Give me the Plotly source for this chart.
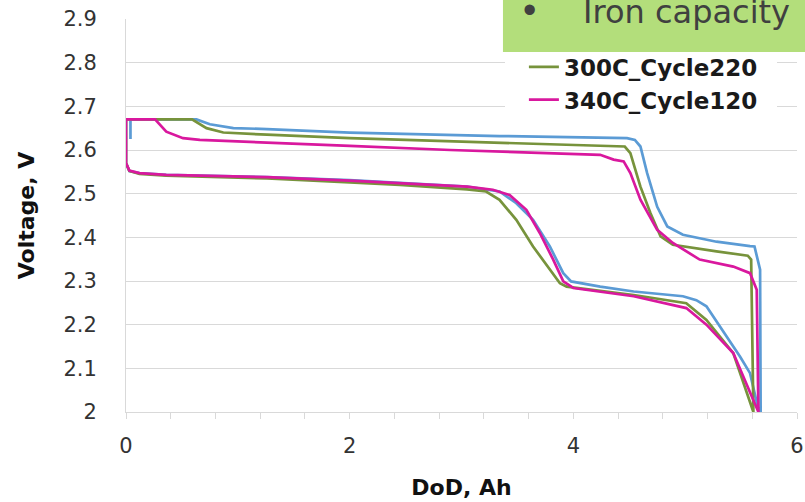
import plotly.graph_objects as go

# Discharge (voltage falling to 2.0 V) followed by recharge back up along the upper branch
blue_dod = [0, 0, 0.03, 0.12, 0.36, 1.26, 2.0, 2.45, 3.05, 3.34, 3.49, 3.64, 3.79, 3.91, 3.98,
            4.24, 4.54, 4.98, 5.10, 5.19, 5.31, 5.49, 5.58, 5.66,
            5.675, 5.67, 5.62, 5.58, 5.28, 4.98, 4.84, 4.75, 4.66, 4.60, 4.55, 4.48, 3.34,
            2.0, 1.26, 0.96, 0.75, 0.63, 0.04, 0.04]
blue_v = [2.67, 2.57, 2.552, 2.547, 2.543, 2.538, 2.531, 2.524, 2.516, 2.505, 2.478, 2.440, 2.379, 2.318, 2.299,
          2.287, 2.276, 2.265, 2.256, 2.242, 2.196, 2.127, 2.089, 2.0,
          2.0, 2.326, 2.379, 2.380, 2.390, 2.406, 2.425, 2.470, 2.547, 2.608, 2.623, 2.627, 2.632,
          2.640, 2.648, 2.650, 2.659, 2.67, 2.67, 2.625]

green_dod = [0, 0, 0.03, 0.12, 0.36, 1.26, 2.0, 2.45, 3.05, 3.22, 3.34, 3.49, 3.64, 3.79, 3.88, 3.94,
             4.54, 5.01, 5.19, 5.43, 5.61,
             5.61, 5.59, 5.56, 5.28, 4.89, 4.78, 4.69, 4.60, 4.51, 4.46, 3.34,
             2.0, 1.26, 0.87, 0.72, 0.59, 0]
green_v = [2.67, 2.57, 2.552, 2.545, 2.541, 2.535, 2.526, 2.520, 2.510, 2.505, 2.486, 2.440, 2.379, 2.326, 2.295, 2.287,
           2.268, 2.249, 2.211, 2.135, 2.0,
           2.0, 2.349, 2.358, 2.368, 2.383, 2.402, 2.455, 2.516, 2.593, 2.608, 2.617,
           2.627, 2.635, 2.640, 2.650, 2.67, 2.67]

magenta_dod = [0, 0, 0.03, 0.12, 0.36, 1.26, 2.0, 2.45, 3.05, 3.28, 3.43, 3.58, 3.70, 3.82, 3.91, 4.0,
               4.24, 4.54, 5.01, 5.19, 5.43, 5.645,
               5.655, 5.64, 5.58, 5.43, 5.13, 4.89, 4.75, 4.60, 4.51, 4.45, 4.36, 4.24, 2.9,
               2.0, 1.26, 0.66, 0.51, 0.36, 0.26, 0]
magenta_v = [2.67, 2.57, 2.553, 2.547, 2.543, 2.538, 2.530, 2.524, 2.516, 2.509, 2.497, 2.463, 2.410, 2.349, 2.299, 2.284,
             2.276, 2.265, 2.238, 2.200, 2.135, 2.005,
             2.0, 2.280, 2.318, 2.333, 2.349, 2.387, 2.417, 2.486, 2.547, 2.574, 2.578, 2.589, 2.600,
             2.6095, 2.617, 2.623, 2.627, 2.642, 2.67, 2.67]

series = [
    ("Blue cell", blue_dod, blue_v, "#5b9bd5", False),
    ("300C_Cycle220", green_dod, green_v, "#77933c", True),
    ("340C_Cycle120", magenta_dod, magenta_v, "#d9189e", True),
]

x_ticks = [0, 2, 4, 6]
y_ticks = [2, 2.1, 2.2, 2.3, 2.4, 2.5, 2.6, 2.7, 2.8, 2.9]

fig = go.Figure()
for name, xs, ys, color, in_legend in series:
    fig.add_trace(go.Scatter(
        x=xs, y=ys, mode="lines", name=name, showlegend=in_legend,
        line=dict(color=color, width=2.7),
    ))

grid = "#d9d9d9"
fig.update_layout(
    width=805, height=502,
    margin=dict(l=126, r=8, t=19, b=90),
    paper_bgcolor="white", plot_bgcolor="white",
    font=dict(family="DejaVu Sans", color="#333333"),
    showlegend=True,
    legend=dict(
        x=0.593, y=0.933, xanchor="left", yanchor="top",
        bgcolor="rgba(0,0,0,0)", borderwidth=0,
        font=dict(family="DejaVu Sans", size=23, color="#1a1a1a", weight="bold"),
        traceorder="normal",
    ),
    xaxis=dict(
        range=[0, 6], tickvals=x_ticks, ticktext=[str(v) for v in x_ticks],
        ticks="outside", ticklen=6, tickcolor=grid, tickwidth=1,
        minor=dict(dtick=0.4, ticks="outside", ticklen=6, tickcolor=grid, tickwidth=1, showgrid=False),
        showgrid=False, zeroline=False, showline=True, linecolor=grid, linewidth=1,
        tickfont=dict(size=21, color="#333333"), ticklabelstandoff=9,
        automargin=False,
        title=dict(text="DoD, Ah", font=dict(size=22, color="#111111", weight="bold"), standoff=22),
    ),
    yaxis=dict(
        range=[2, 2.9], tickvals=y_ticks, ticktext=[f"{v:g}" for v in y_ticks],
        ticks="", showgrid=True, gridcolor=grid, gridwidth=1,
        zeroline=False, showline=True, linecolor=grid, linewidth=1,
        tickfont=dict(size=21, color="#333333"), ticklabelstandoff=24,
        automargin=False,
        title=dict(text="Voltage, V", font=dict(size=22, color="#111111", weight="bold"), standoff=22),
    ),
)

# White backing behind the legend entries, hiding the gridlines there
fig.add_shape(type="rect", xref="paper", yref="paper",
              x0=0.5648, x1=0.9702, y0=0.755, y1=0.92,
              fillcolor="white", line=dict(width=0), layer="above")
# Green callout box in the upper right corner
fig.add_shape(type="rect", xref="paper", yref="paper",
              x0=0.5618, x1=1.05, y0=0.916, y1=1.2,
              fillcolor="#b3de7b", line=dict(width=0), layer="above")
fig.add_annotation(xref="paper", yref="paper", x=0.6013, y=1.024, text="•",
                   showarrow=False, xanchor="center", yanchor="middle",
                   font=dict(family="Liberation Sans", size=38, color="#404040"))
fig.add_annotation(xref="paper", yref="paper", x=0.678, y=1.019, text="Iron capacity",
                   showarrow=False, xanchor="left", yanchor="middle",
                   font=dict(family="DejaVu Sans", size=32, color="#404040"))

fig.write_html("out.html")
